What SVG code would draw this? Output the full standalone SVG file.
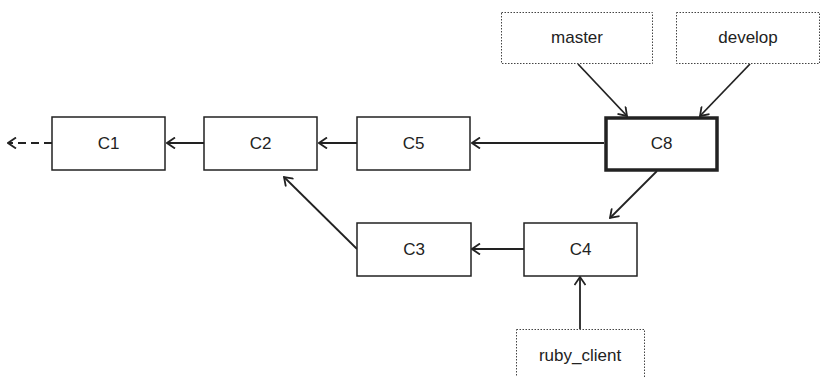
<svg xmlns="http://www.w3.org/2000/svg" width="822" height="377" viewBox="0 0 822 377">
<style>
.n{fill:#fff;stroke:#222;stroke-width:1.5}
.b{fill:#fff;stroke:#222;stroke-width:3.5}
.d{fill:#fff;stroke:#444;stroke-width:1;stroke-dasharray:1.5 1.5}
.t{font-family:"Liberation Sans",Arial,sans-serif;font-size:17px;fill:#222;text-anchor:middle;dominant-baseline:central}
.e{stroke:#222;stroke-width:1.8;fill:none;marker-end:url(#a)}
</style>
<defs>
<marker id="a" viewBox="0 0 10 12" refX="9" refY="6" markerWidth="10" markerHeight="12" markerUnits="userSpaceOnUse" orient="auto">
<path d="M1,0.5 L9,6 L1,11.5" fill="none" stroke="#222" stroke-width="1.8"/>
</marker>
</defs>
<g id="connectors">
<line class="e" x1="52" y1="143" x2="8" y2="143" stroke-dasharray="8 5"/>
<line class="e" x1="204" y1="143" x2="167" y2="143"/>
<line class="e" x1="357" y1="143" x2="319" y2="143"/>
<line class="e" x1="604" y1="143" x2="472" y2="143"/>
<line class="e" x1="578" y1="64" x2="627" y2="116"/>
<line class="e" x1="750" y1="64" x2="700" y2="116"/>
<line class="e" x1="657" y1="171" x2="610" y2="218"/>
<line class="e" x1="524" y1="249" x2="472" y2="249"/>
<line class="e" x1="357" y1="249" x2="284" y2="177"/>
<line class="e" x1="580" y1="329" x2="580" y2="277"/>
</g>
<g id="C1"><rect class="n" x="52" y="117" width="113" height="53"/><text class="t" x="108.5" y="143.5">C1</text></g>
<g id="C2"><rect class="n" x="204" y="117" width="113" height="53"/><text class="t" x="260.5" y="143.5">C2</text></g>
<g id="C5"><rect class="n" x="357" y="117" width="113" height="53"/><text class="t" x="413.5" y="143.5">C5</text></g>
<g id="C8"><rect class="b" x="606" y="118" width="111" height="52"/><text class="t" x="661.5" y="143.5">C8</text></g>
<g id="C3"><rect class="n" x="357" y="223" width="114" height="53"/><text class="t" x="414" y="249.5">C3</text></g>
<g id="C4"><rect class="n" x="524" y="223" width="113" height="53"/><text class="t" x="580.5" y="249.5">C4</text></g>
<g id="master"><rect class="d" x="501.5" y="12.5" width="151" height="51"/><text class="t" x="577" y="37.5">master</text></g>
<g id="develop"><rect class="d" x="676.5" y="12.5" width="143" height="51"/><text class="t" x="748" y="37.5">develop</text></g>
<g id="ruby_client"><rect class="d" x="516.5" y="329.5" width="128" height="60"/><text class="t" x="580" y="355">ruby_client</text></g>
</svg>
